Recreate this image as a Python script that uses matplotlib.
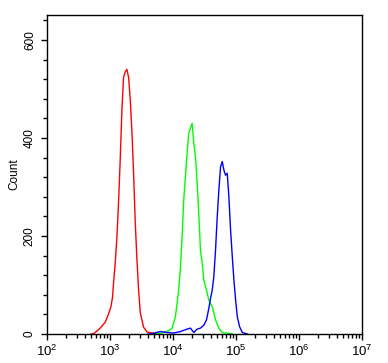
import numpy as np
import matplotlib
matplotlib.use("Agg")
import matplotlib.pyplot as plt
from matplotlib.ticker import MultipleLocator, LogLocator, NullFormatter

plt.rcParams['font.family'] = ['Liberation Sans', 'DejaVu Sans']
plt.rcParams['mathtext.fontset'] = 'custom'
plt.rcParams['mathtext.rm'] = 'Liberation Sans'

# log10 fluorescence intensity, counts
red_log = [2.70, 2.737, 2.844, 2.924, 2.971, 3.014, 3.040, 3.056, 3.083, 3.110, 3.135, 3.162,
           3.189, 3.215, 3.242, 3.269, 3.295, 3.322, 3.349, 3.374, 3.401, 3.428, 3.454,
           3.481, 3.533, 3.588, 3.667, 3.75]
red_cnt = [0, 0, 12, 24, 39, 55, 75, 104, 145, 198, 267, 355,
           457, 524, 535, 540, 524, 478, 410, 329, 227, 151, 90,
           43, 14, 4, 2, 0]

green_log = [3.70, 3.747, 3.906, 3.986, 4.038, 4.065, 4.091, 4.118, 4.145, 4.170, 4.197, 4.224,
             4.250, 4.277, 4.304, 4.330, 4.357, 4.384, 4.409, 4.436, 4.463, 4.489,
             4.532, 4.568, 4.623, 4.648, 4.675, 4.728, 4.782, 4.941]
green_cnt = [0, 0, 5, 12, 35, 63, 90, 137, 199, 273, 321, 369,
             410, 420, 430, 389, 362, 307, 246, 171, 145, 110,
             90, 69, 56, 43, 29, 12, 3, 0]

blue_log = [3.60, 3.640, 3.799, 3.906, 4.011, 4.118, 4.224, 4.277, 4.330, 4.384, 4.436, 4.489,
            4.532, 4.568, 4.596, 4.623, 4.648, 4.675, 4.702, 4.728, 4.755, 4.782,
            4.807, 4.834, 4.861, 4.887, 4.914, 4.941, 4.967, 4.994, 5.021, 5.057,
            5.100, 5.180]
blue_cnt = [0, 0, 5, 3, 2, 5, 10, 12, 3, 10, 12, 18,
            29, 52, 73, 90, 117, 171, 239, 294, 341, 352,
            335, 324, 328, 280, 212, 158, 110, 69, 35, 15,
            3, 0]

fig = plt.figure(figsize=(3.88, 3.63), dpi=100)
ax = fig.add_axes([47 / 388, 29 / 363, 315 / 388, 319 / 363])

for lg, cnt, col in [(red_log, red_cnt, '#ff0000'),
                     (green_log, green_cnt, '#00ff00'),
                     (blue_log, blue_cnt, '#0000ff')]:
    ax.plot(10 ** np.array(lg), cnt, color=col, lw=1)

ax.set_xscale('log')
ax.set_xlim(1e2, 1e7)
ax.set_ylim(0, 651)
ax.yaxis.set_major_locator(MultipleLocator(200))
ax.yaxis.set_minor_locator(MultipleLocator(40))
ax.xaxis.set_major_locator(LogLocator(base=10, numticks=10))
ax.xaxis.set_minor_locator(LogLocator(base=10, subs=np.arange(2, 10), numticks=20))
ax.xaxis.set_minor_formatter(NullFormatter())

ax.tick_params(which='major', direction='out', length=4, width=1, labelsize=8.5, color='black')
ax.tick_params(which='minor', direction='out', length=2.8, width=1)
ax.tick_params(axis='y', labelrotation=90, pad=4)
ax.tick_params(axis='x', pad=3, labelsize=9.5)
for lbl in ax.get_yticklabels():
    lbl.set_verticalalignment('center')
ax.set_ylabel('Count', fontsize=8.5)
ax.yaxis.set_label_coords(-0.085, 0.5)

for s in ax.spines.values():
    s.set_linewidth(1)

fig.savefig('out.png', dpi=100)
